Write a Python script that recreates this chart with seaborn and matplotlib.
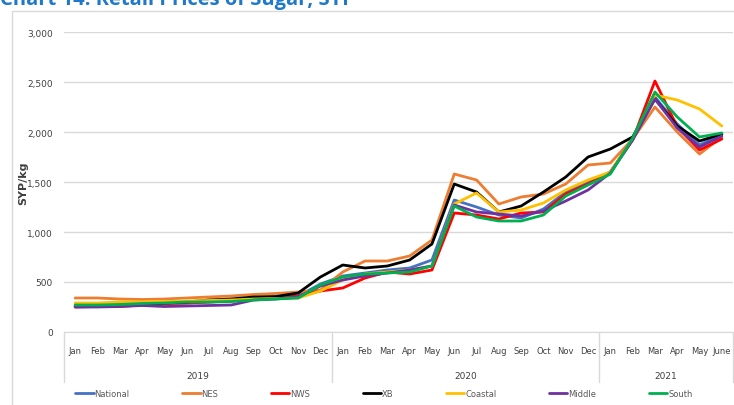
import numpy as np
import pandas as pd
import matplotlib
matplotlib.use("Agg")
import matplotlib.pyplot as plt
import matplotlib.transforms as mtransforms
import seaborn as sns

months = ["Jan", "Feb", "Mar", "Apr", "May", "Jun", "Jul", "Aug", "Sep", "Oct", "Nov", "Dec",
          "Jan", "Feb", "Mar", "Apr", "May", "Jun", "Jul", "Aug", "Sep", "Oct", "Nov", "Dec",
          "Jan", "Feb", "Mar", "Apr", "May", "June"]
years = ["2019", "2020", "2021"]

national = [260, 265, 270, 280, 285, 290, 300, 310, 330, 340, 360, 480,
            560, 590, 620, 640, 720, 1320, 1250, 1170, 1140, 1230, 1400, 1500,
            1600, 1930, 2350, 2080, 1870, 1980]
nes = [340, 340, 330, 325, 330, 340, 350, 360, 375, 385, 400, 420,
       600, 710, 710, 760, 920, 1580, 1520, 1280, 1350, 1380, 1480, 1670,
       1690, 1930, 2250, 2000, 1780, 1950]
nws = [250, 255, 255, 270, 285, 290, 300, 310, 330, 340, 360, 410,
       440, 540, 600, 580, 620, 1190, 1170, 1130, 1190, 1200, 1380, 1480,
       1600, 1920, 2510, 2050, 1820, 1930]
xb = [260, 265, 270, 275, 290, 300, 320, 330, 350, 355, 390, 550,
      670, 640, 660, 720, 880, 1480, 1400, 1200, 1260, 1400, 1550, 1750,
      1830, 1950, 2330, 2060, 1910, 1980]
coastal = [290, 290, 300, 300, 305, 310, 315, 320, 330, 335, 340, 410,
           520, 580, 600, 620, 660, 1280, 1390, 1200, 1220, 1290, 1420, 1520,
           1600, 1930, 2370, 2320, 2230, 2060]
middle = [250, 250, 255, 265, 255, 260, 265, 270, 320, 330, 350, 460,
          520, 560, 590, 620, 660, 1270, 1200, 1180, 1160, 1210, 1310, 1420,
          1590, 1920, 2330, 2040, 1850, 1960]
south = [270, 270, 275, 285, 290, 300, 300, 305, 320, 330, 340, 470,
         550, 580, 590, 600, 660, 1260, 1150, 1110, 1110, 1170, 1360, 1470,
         1580, 1940, 2400, 2150, 1950, 1990]

series = {"National": national, "NES": nes, "NWS": nws, "XB": xb,
          "Coastal": coastal, "Middle": middle, "South": south}
colors = {"National": "#4472C4", "NES": "#ED7D31", "NWS": "#FF0000", "XB": "#000000",
          "Coastal": "#FFC000", "Middle": "#7030A0", "South": "#00B050"}

rows = []
for name, vals in series.items():
    for i, v in enumerate(vals):
        rows.append({"idx": i, "price": v, "region": name})
df = pd.DataFrame(rows)

sns.set_style("white")
plt.rcParams["font.family"] = ["Liberation Sans Narrow", "DejaVu Sans"]

fig = plt.figure(figsize=(7.34, 4.06), dpi=100)
ax = fig.add_axes([64 / 734, 73 / 406, 669 / 734, 300 / 406])

sns.lineplot(data=df, x="idx", y="price", hue="region", palette=colors,
             hue_order=list(series.keys()), linewidth=2, ax=ax, legend=True)

ax.set_xlim(-0.5, 29.5)
ax.set_ylim(0, 3000)
ax.set_yticks(range(0, 3001, 500))
ax.set_yticklabels([f"{v:,}" for v in range(0, 3001, 500)], fontsize=6.5, color="#404040")
ax.yaxis.grid(True, color="#d9d9d9", linewidth=1)
ax.set_axisbelow(True)
ax.tick_params(axis="y", length=0, pad=8)
ax.set_xticks(range(len(months)))
ax.set_xticklabels(months, fontsize=6, color="#404040")
ax.tick_params(axis="x", length=0, pad=10)
ax.set_xlabel("")
ax.set_ylabel("SYP/kg", fontsize=8, fontweight="bold", color="#404040")
ax.yaxis.set_label_coords(-36 / 669, 0.5)
for s in ["top", "right", "left"]:
    ax.spines[s].set_visible(False)
ax.spines["bottom"].set_color("#d9d9d9")

# year grouping under the month labels
trans = mtransforms.blended_transform_factory(ax.transData, ax.transAxes)
for xpos in [-0.5, 11.5, 23.5, 29.5]:
    ax.plot([xpos, xpos], [0, -0.167], transform=trans, color="#d9d9d9",
            linewidth=1, clip_on=False)
for label, center in zip(years, [5.5, 17.5, 26.5]):
    ax.text(center, -0.145, label, transform=trans, ha="center", va="center",
            fontsize=6.5, color="#404040")

# legend at the bottom
handles, labels = ax.get_legend_handles_labels()
ax.legend_.remove()
leg = fig.legend(handles, labels, loc="lower left", ncol=7, mode="expand",
                 bbox_to_anchor=(0.098, 0.01, 0.85, 0.05), frameon=False,
                 fontsize=6, handlelength=2.2, handletextpad=0.1, borderaxespad=0)
for t in leg.get_texts():
    t.set_color("#595959")

# outer frame and cut-off title
fig.patches.append(plt.Rectangle((12 / 734, -0.01), 0.99, 1 - 12 / 406 + 0.01,
                                 transform=fig.transFigure, fill=False,
                                 edgecolor="#d9d9d9", linewidth=1))
fig.text(0.0, 1 - 5 / 406, "Chart 14: Retail Prices of Sugar, SYP", fontsize=14.5,
         fontweight="bold", color="#1F78C8", va="baseline", ha="left",
         family=["Open Sans", "DejaVu Sans"])

fig.savefig("out.png", dpi=100)
